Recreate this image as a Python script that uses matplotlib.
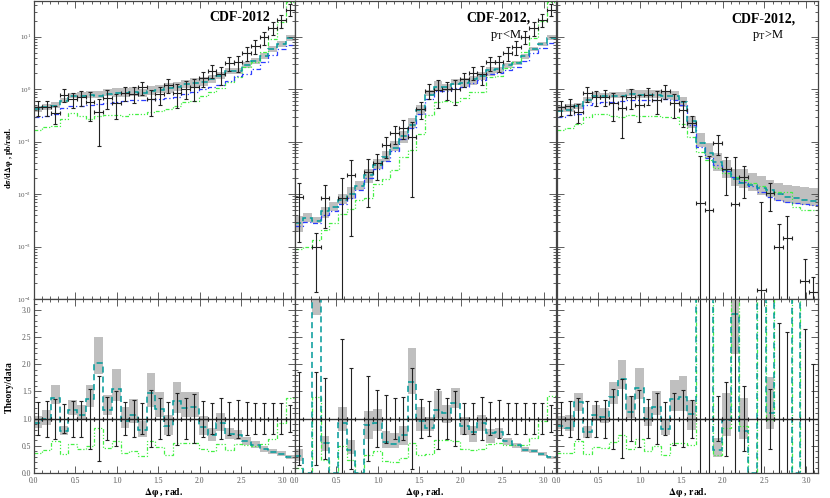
import numpy as np
import matplotlib
matplotlib.use('Agg')
import matplotlib.pyplot as plt
from matplotlib.ticker import MultipleLocator, LogLocator, FormatStrFormatter, NullFormatter

plt.rcParams['font.family'] = ['Liberation Serif', 'DejaVu Serif']
plt.rcParams['mathtext.fontset'] = 'stix'

# 30 bins in delta phi, 0..pi
edges = np.linspace(0, np.pi, 31)

# ---- CDF-2012 (all) ----
data_all = [0.45, 0.45, 0.35, 0.78, 0.64, 0.70, 0.56, 0.37, 0.69, 0.54, 0.86, 0.81, 1.08, 0.64, 0.81,
            1.21, 0.84, 1.03, 1.08, 1.62, 2.24, 1.96, 3.14, 3.23, 5.0, 6.7, 9.7, 14.7, 20.5, 33]
err_all = [0.31, 0.33, 0.37, 0.27, 0.33, 0.33, 0.55, 0.78, 0.40, 0.50, 0.30, 0.34, 0.28, 0.52, 0.38,
           0.30, 0.48, 0.38, 0.45, 0.33, 0.28, 0.38, 0.30, 0.35, 0.30, 0.29, 0.29, 0.28, 0.28, 0.25]
teal_all = [0.41, 0.45, 0.48, 0.60, 0.74, 0.75, 0.76, 0.75, 0.80, 0.83, 0.83, 0.87, 0.86, 0.94, 0.96,
            1.04, 1.12, 1.23, 1.31, 1.38, 1.57, 1.80, 2.26, 2.26, 2.9, 3.48, 4.27, 5.73, 7.2, 9.6]
blue_all = [0.29, 0.31, 0.34, 0.44, 0.47, 0.48, 0.50, 0.52, 0.55, 0.58, 0.59, 0.61, 0.62, 0.64, 0.65,
            0.68, 0.72, 0.80, 0.90, 1.02, 1.12, 1.22, 1.45, 1.75, 1.96, 2.4, 3.3, 4.4, 5.8, 7.0]
green_all = [0.167, 0.194, 0.203, 0.273, 0.346, 0.315, 0.274, 0.307, 0.317, 0.319, 0.31, 0.332, 0.335,
             0.371, 0.381, 0.411, 0.47, 0.577, 0.605, 0.729, 0.896, 1.06, 1.35, 1.74, 2.6, 3.28, 5.14,
             9.1, 18.9, 45.5]
band_lo_all = [0.90, 0.88, 0.93, 0.91, 0.93, 0.93, 0.90, 0.90, 0.92, 0.86, 0.86, 0.86, 0.84, 0.83, 0.87,
               0.81, 0.83, 0.86, 0.85, 0.83, 0.83, 0.85, 0.88, 0.88, 0.88, 0.88, 0.88, 0.88, 0.88, 0.88]
band_hi_all = [1.16, 1.15, 1.18, 1.13, 1.16, 1.16, 1.19, 1.23, 1.24, 1.25, 1.26, 1.26, 1.19, 1.25, 1.25,
               1.24, 1.25, 1.24, 1.23, 1.22, 1.18, 1.20, 1.14, 1.14, 1.14, 1.14, 1.14, 1.14, 1.14, 1.14]

# ---- CDF-2012, pT<M ----
data_low = [0.0089, 0, 0.00096, 0.0085, 0, 0.0083, 0.023, 0, 0.026, 0.039, 0.087, 0.144, 0.185, 0.125,
            0.415, 0.94, 0.97, 1.0, 1.0, 1.55, 2.08, 1.96, 3.23, 3.23, 4.9, 6.3, 9.9, 14.6, 21, 33]
err_low = [0.86, 0, 0.86, 0.74, 0, 1.46, 0.93, 0, 0.78, 0.52, 0.44, 0.38, 0.39, 0.93, 0.36,
           0.32, 0.55, 0.38, 0.50, 0.29, 0.29, 0.40, 0.30, 0.35, 0.29, 0.29, 0.28, 0.28, 0.28, 0.25]
teal_low = [0.0028, 0.0035, 0.0031, 0.0047, 0.0057, 0.0076, 0.0099, 0.014, 0.023, 0.036, 0.050, 0.076,
            0.13, 0.21, 0.40, 0.78, 1.12, 1.10, 1.28, 1.33, 1.56, 1.80, 2.36, 2.42, 2.84, 3.2, 4.26,
            5.84, 7.35, 9.6]
blue_low = [0.0025, 0.003, 0.0028, 0.004, 0.0048, 0.0065, 0.0085, 0.012, 0.02, 0.03, 0.043, 0.065,
            0.11, 0.18, 0.33, 0.65, 0.92, 0.93, 1.05, 1.12, 1.3, 1.5, 1.95, 2.0, 2.35, 2.7, 3.5, 4.8,
            6.1, 7.7]
green_low = [0.00089, 0.001, 0.00135, 0.0021, 0.0028, 0.0041, 0.0053, 0.0077, 0.0086, 0.0156, 0.019,
             0.029, 0.052, 0.069, 0.141, 0.32, 0.58, 0.60, 0.58, 0.67, 0.89, 0.88, 1.74, 1.78, 2.55,
             3.28, 5.15, 9.3, 20, 46.5]
band_lo_low = [0.68, 0.85, 0.90, 0.73, 0.85, 0.84, 0.81, 0.85, 0.70, 0.84, 0.81, 0.87, 0.74, 0.86, 0.81,
               0.93, 0.88, 0.84, 0.93, 0.81, 0.77, 0.84, 0.75, 0.85, 0.90, 0.90, 0.90, 0.90, 0.90, 0.90]
band_hi_low = [1.39, 1.25, 1.20, 1.22, 1.25, 1.33, 1.40, 1.25, 1.29, 1.28, 1.34, 1.38, 1.23, 1.37, 1.26,
               1.25, 1.30, 1.14, 1.22, 1.21, 1.15, 1.16, 1.10, 1.11, 1.10, 1.10, 1.10, 1.10, 1.10, 1.10]

# ---- CDF-2012, pT>M ----
data_high = [0.45, 0.48, 0.37, 0.84, 0.70, 0.72, 0.54, 0.43, 0.72, 0.50, 0.78, 0.63, 0.93, 0.54, 0.40,
             0.23, 0.0069, 0.0049, 0.096, 0.030, 0.0065, 0.0214, 0, 0.000147, 0.0107, 0.00099,
             0.00144, 0, 0.00022, 0.000134]
err_high = [0.30, 0.33, 0.38, 0.33, 0.33, 0.35, 0.55, 0.73, 0.42, 0.52, 0.36, 0.47, 0.30, 0.48, 0.52,
            0.35, 6.7, 9.8, 0.42, 0.68, 6.7, 0.6, 0, 48, 0.55, 1.76, 1.6, 0, 1.65, 1.0]
teal_high = [0.39, 0.40, 0.48, 0.63, 0.75, 0.74, 0.75, 0.74, 0.81, 0.78, 0.78, 0.77, 0.75, 0.73, 0.56,
             0.25, 0.093, 0.06, 0.041, 0.029, 0.019, 0.0165, 0.015, 0.0128, 0.0118, 0.010, 0.0089,
             0.0083, 0.0077, 0.0074]
blue_high = [0.30, 0.32, 0.34, 0.50, 0.55, 0.57, 0.58, 0.60, 0.61, 0.62, 0.62, 0.63, 0.64, 0.63, 0.50,
             0.21, 0.08, 0.048, 0.036, 0.027, 0.021, 0.017, 0.014, 0.011, 0.0089, 0.0077, 0.0072,
             0.0068, 0.0064, 0.0062]
green_high = [0.167, 0.18, 0.215, 0.30, 0.33, 0.33, 0.31, 0.30, 0.32, 0.31, 0.31, 0.31, 0.30, 0.30, 0.22,
              0.12, 0.064, 0.045, 0.031, 0.025, 0.0215, 0.0186, 0.016, 0.014, 0.0104, 0.011, 0.011,
              0.0057, 0.005, 0.005]
band_lo_high = [0.93, 0.93, 0.88, 0.85, 0.89, 0.90, 0.91, 0.90, 0.90, 0.87, 0.86, 0.88, 0.87, 0.84, 0.82,
                0.72, 0.86, 0.80, 0.67, 0.70, 0.75, 0.80, 0.75, 0.75, 0.73, 0.75, 0.75, 0.78, 0.80, 0.80]
band_hi_high = [1.20, 1.29, 1.13, 1.15, 1.16, 1.16, 1.20, 1.21, 1.26, 1.24, 1.22, 1.24, 1.22, 1.27, 1.27,
                1.24, 1.60, 1.60, 1.50, 1.53, 1.60, 1.80, 1.70, 1.70, 1.60, 1.65, 1.70, 1.75, 1.80, 1.80]

panels = [
    (data_all, err_all, teal_all, blue_all, green_all, band_lo_all, band_hi_all),
    (data_low, err_low, teal_low, blue_low, green_low, band_lo_low, band_hi_low),
    (data_high, err_high, teal_high, blue_high, green_high, band_lo_high, band_hi_high),
]

W, H = 830, 498
lefts = [33.5, 294.5, 556.7]
pw = 261

teal_c = '#009a9a'
blue_c = '#2b3cff'
green_c = '#44f044'
band_c = '#bfbfbf'

fig = plt.figure(figsize=(W / 100, H / 100), dpi=100)
centers = 0.5 * (edges[:-1] + edges[1:])
half = 0.5 * np.diff(edges)

for i, (d, e, t, b, g, blo, bhi) in enumerate(panels):
    d = np.array(d); e = np.array(e); t = np.array(t)
    b = np.array(b); g = np.array(g); blo = np.array(blo); bhi = np.array(bhi)
    m = d > 0

    ax_t = fig.add_axes([lefts[i] / W, (H - 299) / H, pw / W, 298 / H])
    ax_b = fig.add_axes([lefts[i] / W, (H - 473) / H, pw / W, 174 / H])

    # top panel: cross section
    ax_t.set_yscale('log')
    ax_t.stairs(t * bhi, edges, baseline=t * blo, fill=True, color=band_c, lw=0)
    ax_t.stairs(g, edges, baseline=None, color=green_c, lw=0.9, ls=(0, (3, 1.5, 1, 1.5, 1, 1.5)))
    ax_t.stairs(b, edges, baseline=None, color=blue_c, lw=0.9, ls=(0, (4, 2, 1, 2)))
    ax_t.stairs(t, edges, baseline=None, color=teal_c, lw=1.1, ls=(0, (4, 2.5)))
    y = d[m]
    low = y - np.maximum(y * (1 - e[m]), 1e-7)
    ax_t.errorbar(centers[m], y, xerr=half[m], yerr=[low, y * e[m]], fmt='none',
                  ecolor='#222222', elinewidth=0.8, capsize=1.5, capthick=0.8)
    ax_t.set_ylim(1e-4, 48)

    # bottom panel: theory/data
    safe = np.where(m, d, 1.0)
    r_t = np.where(m, t / safe, 0)
    r_g = np.where(m, g / safe, 0)
    ax_b.stairs(r_t * bhi, edges, baseline=r_t * blo, fill=True, color=band_c, lw=0)
    ax_b.stairs(r_g, edges, baseline=None, color=green_c, lw=0.9, ls=(0, (3, 1.5, 1, 1.5, 1, 1.5)))
    ax_b.stairs(r_t, edges, baseline=None, color=teal_c, lw=1.1, ls=(0, (4, 2.5)))
    ax_b.axhline(1.0, color='#333333', lw=1.0)
    ax_b.errorbar(centers[m], np.ones(m.sum()), xerr=half[m], yerr=e[m], fmt='none',
                  ecolor='#222222', elinewidth=0.8, capsize=1.5, capthick=0.8)
    ax_b.set_ylim(0, 3.2)

    for ax in (ax_t, ax_b):
        ax.set_xlim(0, np.pi)
        ax.xaxis.set_major_locator(MultipleLocator(0.5))
        ax.xaxis.set_minor_locator(MultipleLocator(0.1))
        ax.tick_params(which='both', direction='in', top=True, right=True, pad=1.5,
                       labelsize=5.5, labelcolor='#555555', color='#444444', width=0.6)
        ax.tick_params(which='major', length=5)
        ax.tick_params(which='minor', length=2.5)
        for s in ax.spines.values():
            s.set_color('#444444')
            s.set_linewidth(0.9)

    ax_t.yaxis.set_major_locator(LogLocator(base=10, numticks=12))
    ax_t.yaxis.set_minor_locator(LogLocator(base=10, subs=np.arange(2, 10), numticks=12))
    ax_t.yaxis.set_minor_formatter(NullFormatter())
    ax_t.tick_params(labelbottom=False)
    ax_t.tick_params(axis='y', labelsize=5)
    ax_b.tick_params(axis='x', pad=3)
    ax_b.yaxis.set_major_locator(MultipleLocator(0.5))
    ax_b.yaxis.set_minor_locator(MultipleLocator(0.1))
    ax_b.xaxis.set_major_formatter(FormatStrFormatter('%.1f'))
    ax_b.yaxis.set_major_formatter(FormatStrFormatter('%.1f'))
    if i > 0:
        ax_t.tick_params(labelleft=False)
        ax_b.tick_params(labelleft=False)

    ax_b.text(0.5, -0.11, r'$\mathbf{\Delta\varphi}$ , rad.', transform=ax_b.transAxes,
              ha='center', va='center', fontsize=7, fontweight='bold')

    if i == 0:
        ax_t.text(0.905, 0.943, 'CDF-2012', transform=ax_t.transAxes, ha='right', va='center',
                  fontsize=10, fontweight='bold')
    elif i == 1:
        ax_t.text(0.905, 0.943, 'CDF-2012,', transform=ax_t.transAxes, ha='right', va='center',
                  fontsize=10, fontweight='bold')
        ax_t.text(0.81, 0.885, r'p$_\mathrm{T}$<M', transform=ax_t.transAxes, ha='center',
                  va='center', fontsize=9)
    else:
        ax_t.text(0.915, 0.94, 'CDF-2012,', transform=ax_t.transAxes, ha='right', va='center',
                  fontsize=10, fontweight='bold')
        ax_t.text(0.81, 0.883, r'p$_\mathrm{T}$>M', transform=ax_t.transAxes, ha='center',
                  va='center', fontsize=9)

fig.text(9 / W, (H - 158) / H, r'd$\mathbf{\sigma}$/d$\mathbf{\Delta\varphi}$ , pb/rad.',
         rotation=90, ha='center', va='center', fontsize=6, fontweight='bold')
fig.text(9 / W, (H - 387) / H, 'Theory/data', rotation=90, ha='center', va='center',
         fontsize=7, fontweight='bold')

fig.savefig('out.png', dpi=100)
